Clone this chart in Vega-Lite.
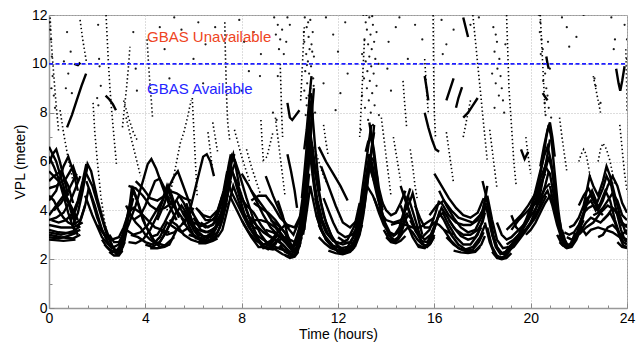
{
"$schema": "https://vega.github.io/schema/vega-lite/v6.json",
"width": 578, "height": 293,
"autosize": {"type": "none"},
"padding": {"left": 49, "top": 15, "right": 14, "bottom": 37},
"background": "white",
"config": {"view": {"stroke": "#999", "strokeWidth": 1}, "font": "Liberation Sans"},
"datasets": {
"arcs": [
{"i":1,"t":0,"v":3.0},{"i":1,"t":0.5,"v":2.9},{"i":1,"t":1.0,"v":2.85},{"i":1,"t":1.3,"v":3.0},
{"i":2,"t":0,"v":3.2},{"i":2,"t":0.4,"v":3.1},{"i":2,"t":0.9,"v":3.05},{"i":2,"t":1.3,"v":3.2},
{"i":3,"t":0,"v":2.8},{"i":3,"t":0.6,"v":2.75},{"i":3,"t":1.1,"v":2.8},
{"i":4,"t":0,"v":3.4},{"i":4,"t":0.5,"v":3.3},{"i":4,"t":1.0,"v":3.3},{"i":4,"t":1.4,"v":3.5},
{"i":5,"t":0,"v":6.6},{"i":5,"t":0.3,"v":6.0},{"i":5,"t":0.6,"v":5.0},{"i":5,"t":0.9,"v":4.0},{"i":5,"t":1.1,"v":3.4},
{"i":6,"t":0,"v":5.6},{"i":6,"t":0.4,"v":5.2},{"i":6,"t":0.8,"v":4.4},{"i":6,"t":1.1,"v":3.6},
{"i":7,"t":0,"v":5.2},{"i":7,"t":0.2,"v":5.4},{"i":7,"t":0.5,"v":5.6},{"i":7,"t":0.8,"v":5.0},{"i":7,"t":1.0,"v":4.3},
{"i":8,"t":0,"v":4.4},{"i":8,"t":0.3,"v":4.8},{"i":8,"t":0.6,"v":5.8},{"i":8,"t":0.8,"v":6.2},{"i":8,"t":1.0,"v":5.6},{"i":8,"t":1.2,"v":4.8},
{"i":9,"t":0,"v":3.8},{"i":9,"t":0.3,"v":4.2},{"i":9,"t":0.6,"v":4.6},{"i":9,"t":0.9,"v":4.2},{"i":9,"t":1.2,"v":3.6},
{"i":10,"t":0,"v":4.9},{"i":10,"t":0.3,"v":5.0},{"i":10,"t":0.7,"v":5.3},{"i":10,"t":1.0,"v":5.8},{"i":10,"t":1.2,"v":5.2},
{"i":11,"t":1.0,"v":3.4},{"i":11,"t":1.2,"v":3.9},{"i":11,"t":1.4,"v":4.8},{"i":11,"t":1.6,"v":5.9},{"i":11,"t":1.75,"v":5.6},{"i":11,"t":2.0,"v":4.5},{"i":11,"t":2.3,"v":3.4},{"i":11,"t":2.6,"v":2.6},{"i":11,"t":2.8,"v":2.2},{"i":11,"t":3.0,"v":2.3},{"i":11,"t":3.15,"v":2.9},
{"i":12,"t":1.5,"v":5.6},{"i":12,"t":1.8,"v":5.0},{"i":12,"t":2.1,"v":4.0},{"i":12,"t":2.4,"v":3.0},{"i":12,"t":2.7,"v":2.4},{"i":12,"t":2.9,"v":2.25},{"i":12,"t":3.1,"v":2.6},{"i":12,"t":3.25,"v":3.3},
{"i":13,"t":1.55,"v":5.2},{"i":13,"t":1.9,"v":4.2},{"i":13,"t":2.2,"v":3.2},{"i":13,"t":2.5,"v":2.6},{"i":13,"t":2.8,"v":2.35},{"i":13,"t":3.0,"v":2.6},{"i":13,"t":3.2,"v":3.3},{"i":13,"t":3.35,"v":4.0},
{"i":14,"t":1.5,"v":4.6},{"i":14,"t":1.8,"v":3.8},{"i":14,"t":2.2,"v":2.9},{"i":14,"t":2.6,"v":2.45},{"i":14,"t":2.9,"v":2.6},{"i":14,"t":3.2,"v":3.4},{"i":14,"t":3.45,"v":4.4},
{"i":15,"t":2.7,"v":2.25},{"i":15,"t":3.0,"v":2.5},{"i":15,"t":3.2,"v":3.3},{"i":15,"t":3.35,"v":4.2},{"i":15,"t":3.45,"v":5.0},{"i":15,"t":3.6,"v":4.6},{"i":15,"t":3.9,"v":3.6},{"i":15,"t":4.3,"v":2.8},{"i":15,"t":4.6,"v":2.5},{"i":15,"t":5.0,"v":2.6},{"i":15,"t":5.3,"v":3.2},
{"i":16,"t":2.9,"v":2.4},{"i":16,"t":3.1,"v":3.0},{"i":16,"t":3.3,"v":4.0},{"i":16,"t":3.5,"v":4.8},{"i":16,"t":3.7,"v":4.3},{"i":16,"t":4.0,"v":3.4},{"i":16,"t":4.4,"v":2.7},{"i":16,"t":4.8,"v":2.55},{"i":16,"t":5.2,"v":2.9},
{"i":17,"t":3.0,"v":2.8},{"i":17,"t":3.3,"v":3.4},{"i":17,"t":3.6,"v":4.2},{"i":17,"t":3.9,"v":5.2},{"i":17,"t":4.1,"v":5.9},{"i":17,"t":4.25,"v":6.1},{"i":17,"t":4.45,"v":5.7},{"i":17,"t":4.7,"v":5.0},{"i":17,"t":5.0,"v":4.2},{"i":17,"t":5.3,"v":3.6},
{"i":18,"t":3.2,"v":3.2},{"i":18,"t":3.5,"v":3.0},{"i":18,"t":3.8,"v":3.1},{"i":18,"t":4.1,"v":3.4},{"i":18,"t":4.4,"v":3.9},{"i":18,"t":4.7,"v":4.4},{"i":18,"t":4.9,"v":5.0},{"i":18,"t":5.1,"v":4.4},{"i":18,"t":5.4,"v":3.7},
{"i":19,"t":4.0,"v":2.6},{"i":19,"t":4.3,"v":2.5},{"i":19,"t":4.6,"v":2.7},{"i":19,"t":4.9,"v":3.2},{"i":19,"t":5.2,"v":3.8},{"i":19,"t":5.5,"v":4.2},{"i":19,"t":5.7,"v":3.9},{"i":19,"t":6.0,"v":3.2},{"i":19,"t":6.3,"v":2.8},{"i":19,"t":6.6,"v":2.75},{"i":19,"t":7.0,"v":3.0},
{"i":20,"t":4.2,"v":2.9},{"i":20,"t":4.5,"v":3.0},{"i":20,"t":4.8,"v":3.5},{"i":20,"t":5.1,"v":4.1},{"i":20,"t":5.4,"v":4.6},{"i":20,"t":5.6,"v":4.3},{"i":20,"t":5.9,"v":3.6},{"i":20,"t":6.2,"v":3.0},{"i":20,"t":6.5,"v":2.9},{"i":20,"t":6.9,"v":3.2},{"i":20,"t":7.2,"v":3.9},
{"i":21,"t":4.5,"v":3.6},{"i":21,"t":4.8,"v":4.3},{"i":21,"t":5.0,"v":5.0},{"i":21,"t":5.2,"v":5.4},{"i":21,"t":5.35,"v":5.6},{"i":21,"t":5.5,"v":5.2},{"i":21,"t":5.8,"v":4.4},{"i":21,"t":6.0,"v":3.8},
{"i":22,"t":5.6,"v":3.4},{"i":22,"t":5.9,"v":4.2},{"i":22,"t":6.15,"v":5.2},{"i":22,"t":6.4,"v":6.2},{"i":22,"t":6.55,"v":6.3},{"i":22,"t":6.7,"v":6.0},{"i":22,"t":6.85,"v":5.4},
{"i":23,"t":5.6,"v":4.0},{"i":23,"t":5.8,"v":3.4},{"i":23,"t":6.0,"v":3.0},{"i":23,"t":6.3,"v":2.75},{"i":23,"t":6.6,"v":2.7},{"i":23,"t":6.9,"v":2.9},{"i":23,"t":7.1,"v":3.3},{"i":23,"t":7.3,"v":4.0},{"i":23,"t":7.45,"v":4.8},{"i":23,"t":7.6,"v":5.6},{"i":23,"t":7.75,"v":6.0},
{"i":24,"t":5.7,"v":4.3},{"i":24,"t":5.9,"v":3.7},{"i":24,"t":6.1,"v":3.2},{"i":24,"t":6.4,"v":2.95},{"i":24,"t":6.7,"v":2.9},{"i":24,"t":7.0,"v":3.1},{"i":24,"t":7.2,"v":3.6},{"i":24,"t":7.35,"v":4.3},{"i":24,"t":7.5,"v":5.2},{"i":24,"t":7.6,"v":6.2},{"i":24,"t":7.7,"v":6.0},
{"i":25,"t":5.5,"v":3.7},{"i":25,"t":5.8,"v":3.2},{"i":25,"t":6.1,"v":2.85},{"i":25,"t":6.5,"v":2.8},{"i":25,"t":6.8,"v":3.0},{"i":25,"t":7.05,"v":3.5},{"i":25,"t":7.25,"v":4.3},{"i":25,"t":7.4,"v":5.1},{"i":25,"t":7.55,"v":5.9},{"i":25,"t":7.7,"v":6.3},
{"i":26,"t":5.9,"v":4.0},{"i":26,"t":6.2,"v":3.5},{"i":26,"t":6.5,"v":3.3},{"i":26,"t":6.8,"v":3.4},{"i":26,"t":7.0,"v":3.8},{"i":26,"t":7.2,"v":4.4},{"i":26,"t":7.35,"v":5.0},
{"i":27,"t":6.0,"v":3.7},{"i":27,"t":6.3,"v":3.2},{"i":27,"t":6.6,"v":3.1},{"i":27,"t":6.9,"v":3.3},{"i":27,"t":7.15,"v":3.9},{"i":27,"t":7.3,"v":4.6},{"i":27,"t":7.45,"v":5.5},
{"i":28,"t":6.1,"v":4.1},{"i":28,"t":6.4,"v":3.8},{"i":28,"t":6.7,"v":3.7},{"i":28,"t":7.0,"v":4.0},{"i":28,"t":7.2,"v":4.6},
{"i":29,"t":7.7,"v":6.1},{"i":29,"t":7.9,"v":5.5},{"i":29,"t":8.2,"v":4.5},{"i":29,"t":8.5,"v":3.6},{"i":29,"t":8.8,"v":3.0},{"i":29,"t":9.1,"v":2.6},{"i":29,"t":9.4,"v":2.4},{"i":29,"t":9.7,"v":2.2},{"i":29,"t":10.0,"v":2.1},{"i":29,"t":10.2,"v":2.2},{"i":29,"t":10.4,"v":2.8},{"i":29,"t":10.55,"v":4.0},{"i":29,"t":10.7,"v":5.5},{"i":29,"t":10.8,"v":7.0},
{"i":30,"t":7.6,"v":5.6},{"i":30,"t":7.9,"v":4.9},{"i":30,"t":8.2,"v":4.0},{"i":30,"t":8.5,"v":3.2},{"i":30,"t":8.8,"v":2.6},{"i":30,"t":9.1,"v":2.4},{"i":30,"t":9.4,"v":2.6},{"i":30,"t":9.6,"v":3.0},
{"i":31,"t":7.8,"v":5.0},{"i":31,"t":8.1,"v":4.3},{"i":31,"t":8.4,"v":3.5},{"i":31,"t":8.7,"v":2.8},{"i":31,"t":8.9,"v":2.45},{"i":31,"t":9.2,"v":2.5},{"i":31,"t":9.5,"v":2.8},{"i":31,"t":9.8,"v":2.5},{"i":31,"t":10.1,"v":2.1},{"i":31,"t":10.3,"v":2.3},{"i":31,"t":10.5,"v":3.2},{"i":31,"t":10.65,"v":4.6},{"i":31,"t":10.75,"v":6.0},
{"i":32,"t":7.5,"v":4.6},{"i":32,"t":7.8,"v":4.0},{"i":32,"t":8.1,"v":3.4},{"i":32,"t":8.4,"v":2.9},{"i":32,"t":8.7,"v":2.5},{"i":32,"t":9.0,"v":2.5},{"i":32,"t":9.3,"v":2.8},{"i":32,"t":9.6,"v":3.3},
{"i":33,"t":7.9,"v":4.6},{"i":33,"t":8.2,"v":4.2},{"i":33,"t":8.5,"v":3.9},{"i":33,"t":8.8,"v":3.4},{"i":33,"t":9.1,"v":3.0},{"i":33,"t":9.4,"v":2.8},{"i":33,"t":9.7,"v":2.6},{"i":33,"t":10.0,"v":2.3},{"i":33,"t":10.3,"v":2.4},{"i":33,"t":10.5,"v":3.0},{"i":33,"t":10.65,"v":4.0},{"i":33,"t":10.8,"v":5.5},
{"i":34,"t":8.0,"v":5.5},{"i":34,"t":8.3,"v":5.0},{"i":34,"t":8.6,"v":4.4},{"i":34,"t":8.9,"v":3.8},{"i":34,"t":9.2,"v":3.3},{"i":34,"t":9.5,"v":3.0},{"i":34,"t":9.8,"v":2.7},{"i":34,"t":10.05,"v":2.4},{"i":34,"t":10.25,"v":2.6},{"i":34,"t":10.45,"v":3.5},{"i":34,"t":10.6,"v":4.8},{"i":34,"t":10.7,"v":6.2},{"i":34,"t":10.8,"v":8.0},
{"i":35,"t":8.3,"v":3.7},{"i":35,"t":8.6,"v":3.4},{"i":35,"t":8.9,"v":3.1},{"i":35,"t":9.2,"v":2.9},{"i":35,"t":9.5,"v":2.75},{"i":35,"t":9.8,"v":2.9},{"i":35,"t":10.1,"v":2.5},{"i":35,"t":10.3,"v":2.7},{"i":35,"t":10.5,"v":3.6},
{"i":36,"t":8.4,"v":4.8},{"i":36,"t":8.7,"v":4.4},{"i":36,"t":9.0,"v":4.0},{"i":36,"t":9.3,"v":3.5},{"i":36,"t":9.6,"v":3.1},{"i":36,"t":9.9,"v":2.7},{"i":36,"t":10.1,"v":2.5},{"i":36,"t":10.35,"v":3.0},{"i":36,"t":10.5,"v":3.8},
{"i":37,"t":9.0,"v":5.4},{"i":37,"t":9.3,"v":4.6},{"i":37,"t":9.6,"v":3.9},{"i":37,"t":9.9,"v":3.3},{"i":37,"t":10.15,"v":3.0},{"i":37,"t":10.4,"v":3.6},{"i":37,"t":10.6,"v":5.0},{"i":37,"t":10.75,"v":6.8},{"i":37,"t":10.85,"v":8.5},
{"i":38,"t":10.8,"v":7.5},{"i":38,"t":10.95,"v":6.5},{"i":38,"t":11.1,"v":5.4},{"i":38,"t":11.3,"v":4.3},{"i":38,"t":11.5,"v":3.5},{"i":38,"t":11.8,"v":2.8},{"i":38,"t":12.1,"v":2.4},{"i":38,"t":12.4,"v":2.3},{"i":38,"t":12.7,"v":2.6},{"i":38,"t":12.9,"v":3.5},{"i":38,"t":13.05,"v":4.6},{"i":38,"t":13.2,"v":5.6},{"i":38,"t":13.3,"v":6.3},
{"i":39,"t":10.9,"v":6.8},{"i":39,"t":11.0,"v":5.8},{"i":39,"t":11.2,"v":4.7},{"i":39,"t":11.4,"v":3.8},{"i":39,"t":11.7,"v":3.0},{"i":39,"t":12.0,"v":2.55},{"i":39,"t":12.3,"v":2.35},{"i":39,"t":12.6,"v":2.5},{"i":39,"t":12.85,"v":3.2},{"i":39,"t":13.0,"v":4.2},{"i":39,"t":13.15,"v":5.2},{"i":39,"t":13.3,"v":6.0},
{"i":40,"t":10.95,"v":5.5},{"i":40,"t":11.15,"v":4.4},{"i":40,"t":11.35,"v":3.6},{"i":40,"t":11.6,"v":3.0},{"i":40,"t":11.9,"v":2.7},{"i":40,"t":12.2,"v":2.6},{"i":40,"t":12.5,"v":2.7},{"i":40,"t":12.75,"v":3.1},{"i":40,"t":12.95,"v":3.9},{"i":40,"t":13.1,"v":4.9},
{"i":41,"t":11.05,"v":4.5},{"i":41,"t":11.25,"v":3.7},{"i":41,"t":11.5,"v":3.1},{"i":41,"t":11.8,"v":2.75},{"i":41,"t":12.1,"v":2.65},{"i":41,"t":12.4,"v":2.8},{"i":41,"t":12.7,"v":3.4},{"i":41,"t":12.9,"v":4.3},
{"i":42,"t":11.2,"v":3.4},{"i":42,"t":11.4,"v":3.0},{"i":42,"t":11.7,"v":2.6},{"i":42,"t":12.0,"v":2.3},{"i":42,"t":12.3,"v":2.25},{"i":42,"t":12.6,"v":2.4},{"i":42,"t":12.8,"v":2.9},
{"i":43,"t":11.3,"v":5.8},{"i":43,"t":11.6,"v":5.0},{"i":43,"t":11.9,"v":4.2},{"i":43,"t":12.2,"v":3.5},{"i":43,"t":12.5,"v":3.3},{"i":43,"t":12.8,"v":3.6},{"i":43,"t":13.0,"v":4.4},
{"i":44,"t":11.2,"v":6.6},{"i":44,"t":11.5,"v":6.0},{"i":44,"t":11.8,"v":5.5},{"i":44,"t":12.1,"v":5.0},{"i":44,"t":12.4,"v":4.4},
{"i":45,"t":13.3,"v":6.3},{"i":45,"t":13.5,"v":5.4},{"i":45,"t":13.7,"v":4.4},{"i":45,"t":13.9,"v":3.6},{"i":45,"t":14.1,"v":3.0},{"i":45,"t":14.3,"v":2.75},{"i":45,"t":14.5,"v":2.9},{"i":45,"t":14.7,"v":3.5},{"i":45,"t":14.85,"v":4.4},{"i":45,"t":15.0,"v":4.9},
{"i":46,"t":13.35,"v":5.8},{"i":46,"t":13.6,"v":4.7},{"i":46,"t":13.8,"v":3.9},{"i":46,"t":14.0,"v":3.3},{"i":46,"t":14.2,"v":2.9},{"i":46,"t":14.4,"v":2.75},{"i":46,"t":14.6,"v":3.0},{"i":46,"t":14.8,"v":3.6},
{"i":47,"t":13.4,"v":6.0},{"i":47,"t":13.55,"v":5.2},{"i":47,"t":13.75,"v":4.2},{"i":47,"t":13.95,"v":3.5},{"i":47,"t":14.15,"v":3.1},{"i":47,"t":14.35,"v":3.0},{"i":47,"t":14.55,"v":3.3},{"i":47,"t":14.75,"v":4.0},{"i":47,"t":14.9,"v":4.6},
{"i":48,"t":13.2,"v":5.0},{"i":48,"t":13.45,"v":4.6},{"i":48,"t":13.7,"v":4.0},{"i":48,"t":14.0,"v":3.6},{"i":48,"t":14.3,"v":3.5},{"i":48,"t":14.6,"v":3.6},{"i":48,"t":14.9,"v":3.9},
{"i":49,"t":14.6,"v":4.2},{"i":49,"t":14.85,"v":3.5},{"i":49,"t":15.1,"v":2.9},{"i":49,"t":15.35,"v":2.5},{"i":49,"t":15.6,"v":2.45},{"i":49,"t":15.85,"v":2.8},{"i":49,"t":16.05,"v":3.4},{"i":49,"t":16.2,"v":3.9},{"i":49,"t":16.4,"v":3.6},{"i":49,"t":16.7,"v":3.0},{"i":49,"t":17.0,"v":2.6},{"i":49,"t":17.3,"v":2.4},{"i":49,"t":17.6,"v":2.5},{"i":49,"t":17.9,"v":2.9},{"i":49,"t":18.1,"v":3.4},
{"i":50,"t":14.7,"v":4.8},{"i":50,"t":14.95,"v":4.0},{"i":50,"t":15.2,"v":3.2},{"i":50,"t":15.45,"v":2.75},{"i":50,"t":15.7,"v":2.7},{"i":50,"t":15.95,"v":3.1},{"i":50,"t":16.15,"v":3.7},{"i":50,"t":16.35,"v":3.9},{"i":50,"t":16.6,"v":3.4},{"i":50,"t":16.9,"v":2.9},{"i":50,"t":17.2,"v":2.6},{"i":50,"t":17.5,"v":2.6},{"i":50,"t":17.8,"v":3.0},{"i":50,"t":18.0,"v":3.6},{"i":50,"t":18.15,"v":4.3},
{"i":51,"t":14.9,"v":4.6},{"i":51,"t":15.15,"v":3.8},{"i":51,"t":15.4,"v":3.0},{"i":51,"t":15.6,"v":2.8},{"i":51,"t":15.85,"v":3.0},{"i":51,"t":16.1,"v":3.6},{"i":51,"t":16.3,"v":4.1},{"i":51,"t":16.5,"v":3.8},{"i":51,"t":16.8,"v":3.3},{"i":51,"t":17.1,"v":2.95},{"i":51,"t":17.4,"v":2.8},{"i":51,"t":17.7,"v":2.9},{"i":51,"t":17.95,"v":3.3},
{"i":52,"t":15.0,"v":3.6},{"i":52,"t":15.25,"v":3.1},{"i":52,"t":15.5,"v":2.9},{"i":52,"t":15.8,"v":3.2},{"i":52,"t":16.05,"v":3.9},{"i":52,"t":16.2,"v":4.4},
{"i":53,"t":16.2,"v":4.8},{"i":53,"t":16.5,"v":4.2},{"i":53,"t":16.8,"v":3.7},{"i":53,"t":17.1,"v":3.3},{"i":53,"t":17.4,"v":3.1},{"i":53,"t":17.7,"v":3.2},{"i":53,"t":17.95,"v":3.7},{"i":53,"t":18.1,"v":4.4},{"i":53,"t":18.2,"v":5.0},
{"i":54,"t":16.4,"v":3.2},{"i":54,"t":16.7,"v":2.75},{"i":54,"t":17.0,"v":2.45},{"i":54,"t":17.3,"v":2.35},{"i":54,"t":17.6,"v":2.4},{"i":54,"t":17.85,"v":2.7},{"i":54,"t":18.05,"v":3.1},
{"i":55,"t":16.0,"v":5.5},{"i":55,"t":16.3,"v":5.0},{"i":55,"t":16.6,"v":4.5},{"i":55,"t":16.9,"v":4.1},{"i":55,"t":17.2,"v":3.8},{"i":55,"t":17.5,"v":3.7},{"i":55,"t":17.8,"v":3.9},{"i":55,"t":18.05,"v":4.5},
{"i":56,"t":18.1,"v":3.5},{"i":56,"t":18.3,"v":2.7},{"i":56,"t":18.5,"v":2.2},{"i":56,"t":18.7,"v":2.05},{"i":56,"t":18.9,"v":2.1},{"i":56,"t":19.1,"v":2.4},{"i":56,"t":19.4,"v":2.8},{"i":56,"t":19.7,"v":3.3},{"i":56,"t":20.0,"v":4.0},{"i":56,"t":20.3,"v":5.0},{"i":56,"t":20.5,"v":6.0},{"i":56,"t":20.65,"v":7.0},{"i":56,"t":20.75,"v":7.5},{"i":56,"t":20.85,"v":7.0},{"i":56,"t":21.0,"v":5.5},{"i":56,"t":21.15,"v":4.0},{"i":56,"t":21.3,"v":2.9},{"i":56,"t":21.45,"v":2.5},{"i":56,"t":21.6,"v":2.6},
{"i":57,"t":18.15,"v":4.2},{"i":57,"t":18.35,"v":3.2},{"i":57,"t":18.55,"v":2.5},{"i":57,"t":18.75,"v":2.2},{"i":57,"t":18.95,"v":2.3},{"i":57,"t":19.2,"v":2.6},{"i":57,"t":19.5,"v":3.0},{"i":57,"t":19.8,"v":3.6},{"i":57,"t":20.1,"v":4.4},{"i":57,"t":20.35,"v":5.4},{"i":57,"t":20.55,"v":6.2},{"i":57,"t":20.7,"v":6.6},{"i":57,"t":20.85,"v":6.0},{"i":57,"t":21.0,"v":4.8},{"i":57,"t":21.2,"v":3.4},{"i":57,"t":21.4,"v":2.6},{"i":57,"t":21.6,"v":2.5},
{"i":58,"t":18.2,"v":4.6},{"i":58,"t":18.4,"v":3.6},{"i":58,"t":18.6,"v":2.8},{"i":58,"t":18.85,"v":2.45},{"i":58,"t":19.1,"v":2.5},{"i":58,"t":19.4,"v":2.75},{"i":58,"t":19.7,"v":3.1},{"i":58,"t":20.0,"v":3.5},{"i":58,"t":20.3,"v":4.0},{"i":58,"t":20.5,"v":4.5},{"i":58,"t":20.7,"v":4.8},{"i":58,"t":20.9,"v":4.2},{"i":58,"t":21.1,"v":3.4},{"i":58,"t":21.3,"v":2.8},{"i":58,"t":21.5,"v":2.7},
{"i":59,"t":18.4,"v":3.0},{"i":59,"t":18.6,"v":2.5},{"i":59,"t":18.8,"v":2.25},{"i":59,"t":19.0,"v":2.3},{"i":59,"t":19.3,"v":2.5},{"i":59,"t":19.6,"v":2.9},{"i":59,"t":19.9,"v":3.3},{"i":59,"t":20.2,"v":3.7},{"i":59,"t":20.45,"v":4.2},{"i":59,"t":20.65,"v":4.6},
{"i":60,"t":19.0,"v":3.2},{"i":60,"t":19.3,"v":3.5},{"i":60,"t":19.6,"v":3.8},{"i":60,"t":19.9,"v":4.2},{"i":60,"t":20.2,"v":4.7},{"i":60,"t":20.4,"v":5.3},{"i":60,"t":20.6,"v":5.8},{"i":60,"t":20.8,"v":5.5},{"i":60,"t":21.0,"v":4.4},{"i":60,"t":21.2,"v":3.2},
{"i":61,"t":21.2,"v":3.6},{"i":61,"t":21.35,"v":2.8},{"i":61,"t":21.5,"v":2.5},{"i":61,"t":21.7,"v":2.6},{"i":61,"t":21.9,"v":3.0},{"i":61,"t":22.1,"v":3.6},{"i":61,"t":22.3,"v":4.2},{"i":61,"t":22.5,"v":4.4},{"i":61,"t":22.7,"v":4.0},{"i":61,"t":22.9,"v":4.3},{"i":61,"t":23.1,"v":4.8},{"i":61,"t":23.3,"v":4.4},{"i":61,"t":23.5,"v":3.6},{"i":61,"t":23.7,"v":3.0},{"i":61,"t":23.85,"v":2.7},{"i":61,"t":24.0,"v":2.6},
{"i":62,"t":21.3,"v":3.2},{"i":62,"t":21.45,"v":2.7},{"i":62,"t":21.6,"v":2.55},{"i":62,"t":21.8,"v":2.7},{"i":62,"t":22.0,"v":3.1},{"i":62,"t":22.2,"v":3.8},{"i":62,"t":22.4,"v":4.5},{"i":62,"t":22.55,"v":4.8},{"i":62,"t":22.75,"v":4.3},{"i":62,"t":23.0,"v":4.9},{"i":62,"t":23.15,"v":5.4},{"i":62,"t":23.35,"v":5.0},{"i":62,"t":23.55,"v":4.0},{"i":62,"t":23.75,"v":3.2},{"i":62,"t":23.9,"v":2.8},{"i":62,"t":24.0,"v":2.7},
{"i":63,"t":21.5,"v":2.9},{"i":63,"t":21.7,"v":2.8},{"i":63,"t":21.9,"v":2.9},{"i":63,"t":22.1,"v":3.2},{"i":63,"t":22.3,"v":3.5},{"i":63,"t":22.5,"v":3.7},{"i":63,"t":22.7,"v":3.6},{"i":63,"t":22.9,"v":3.5},{"i":63,"t":23.1,"v":3.7},{"i":63,"t":23.3,"v":3.9},{"i":63,"t":23.5,"v":3.5},{"i":63,"t":23.7,"v":2.9},{"i":63,"t":23.85,"v":2.55},{"i":63,"t":24.0,"v":2.5},
{"i":64,"t":21.6,"v":3.3},{"i":64,"t":21.8,"v":3.4},{"i":64,"t":22.0,"v":3.7},{"i":64,"t":22.2,"v":4.2},{"i":64,"t":22.35,"v":4.9},{"i":64,"t":22.45,"v":5.4},{"i":64,"t":22.6,"v":5.0},{"i":64,"t":22.8,"v":4.6},{"i":64,"t":23.0,"v":5.2},{"i":64,"t":23.15,"v":5.8},{"i":64,"t":23.3,"v":5.4},{"i":64,"t":23.5,"v":4.6},{"i":64,"t":23.7,"v":3.8},{"i":64,"t":23.9,"v":3.2},{"i":64,"t":24.0,"v":3.0},
{"i":65,"t":21.1,"v":3.0},{"i":65,"t":21.3,"v":2.6},{"i":65,"t":21.5,"v":2.45},{"i":65,"t":21.7,"v":2.5},{"i":65,"t":21.9,"v":2.8},{"i":65,"t":22.1,"v":3.3},{"i":65,"t":22.3,"v":3.0},{"i":65,"t":22.5,"v":3.2},{"i":65,"t":22.8,"v":3.3},{"i":65,"t":23.1,"v":3.2},{"i":65,"t":23.4,"v":3.1},{"i":65,"t":23.7,"v":2.9},{"i":65,"t":24.0,"v":3.2},
{"i":66,"t":22.6,"v":3.8},{"i":66,"t":22.8,"v":3.9},{"i":66,"t":23.0,"v":4.1},{"i":66,"t":23.2,"v":4.4},{"i":66,"t":23.4,"v":4.7},{"i":66,"t":23.6,"v":4.4},{"i":66,"t":23.8,"v":3.8},{"i":66,"t":24.0,"v":3.6},
{"i":67,"t":3.3,"v":2.7},{"i":67,"t":3.6,"v":2.65},{"i":67,"t":3.9,"v":2.8},{"i":67,"t":4.2,"v":3.2},{"i":67,"t":4.5,"v":3.8},{"i":67,"t":4.8,"v":4.6},{"i":67,"t":4.95,"v":5.0},{"i":67,"t":5.1,"v":4.6},{"i":67,"t":5.3,"v":4.0},{"i":67,"t":5.6,"v":3.6},{"i":67,"t":5.9,"v":3.7},
{"i":68,"t":3.4,"v":3.0},{"i":68,"t":3.7,"v":2.9},{"i":68,"t":4.0,"v":2.7},{"i":68,"t":4.3,"v":2.6},{"i":68,"t":4.6,"v":2.9},{"i":68,"t":4.9,"v":3.5},{"i":68,"t":5.2,"v":3.3},{"i":68,"t":5.5,"v":3.1},{"i":68,"t":5.8,"v":3.3},
{"i":69,"t":0.9,"v":3.6},{"i":69,"t":1.1,"v":4.0},{"i":69,"t":1.3,"v":4.6},{"i":69,"t":1.5,"v":5.4},{"i":69,"t":1.6,"v":5.8},
{"i":70,"t":10.6,"v":3.2},{"i":70,"t":10.7,"v":4.6},{"i":70,"t":10.8,"v":6.3},{"i":70,"t":10.9,"v":7.8},{"i":70,"t":11.0,"v":9.0},
{"i":71,"t":12.5,"v":2.4},{"i":71,"t":12.75,"v":2.8},{"i":71,"t":12.95,"v":3.6},{"i":71,"t":13.1,"v":4.6},{"i":71,"t":13.25,"v":5.6},{"i":71,"t":13.4,"v":6.4},{"i":71,"t":13.5,"v":7.5},
{"i":72,"t":12.7,"v":2.5},{"i":72,"t":12.9,"v":3.0},{"i":72,"t":13.05,"v":3.8},{"i":72,"t":13.2,"v":4.9},{"i":72,"t":13.35,"v":6.2},{"i":72,"t":13.5,"v":6.0},{"i":72,"t":13.65,"v":5.0},{"i":72,"t":13.85,"v":4.0},
{"i":73,"t":0.75,"v":7.4},{"i":73,"t":0.95,"v":7.9},{"i":73,"t":1.15,"v":8.5},{"i":73,"t":1.35,"v":9.1},{"i":73,"t":1.54,"v":9.6},
{"i":74,"t":1.05,"v":10.0},{"i":74,"t":1.2,"v":9.95},{"i":74,"t":1.3,"v":10.05},
{"i":75,"t":2.35,"v":8.7},{"i":75,"t":2.5,"v":8.55},{"i":75,"t":2.65,"v":8.35},{"i":75,"t":2.78,"v":8.1},
{"i":76,"t":9.9,"v":8.4},{"i":76,"t":10.0,"v":7.8},{"i":76,"t":10.1,"v":7.7},{"i":76,"t":10.25,"v":7.9},{"i":76,"t":10.4,"v":8.1},
{"i":77,"t":9.9,"v":6.3},{"i":77,"t":10.05,"v":5.6},{"i":77,"t":10.2,"v":4.8},{"i":77,"t":10.3,"v":4.1},
{"i":78,"t":15.6,"v":8.0},{"i":78,"t":15.75,"v":7.4},{"i":78,"t":15.9,"v":6.9},{"i":78,"t":16.05,"v":6.5},{"i":78,"t":16.2,"v":6.4},
{"i":79,"t":15.6,"v":9.5},{"i":79,"t":15.68,"v":9.0},{"i":79,"t":15.75,"v":8.5},
{"i":80,"t":17.2,"v":11.9},{"i":80,"t":17.3,"v":11.5},{"i":80,"t":17.4,"v":11.1},
{"i":81,"t":16.5,"v":8.5},{"i":81,"t":16.65,"v":8.95},{"i":81,"t":16.8,"v":9.4},
{"i":82,"t":16.9,"v":8.2},{"i":82,"t":17.0,"v":8.6},{"i":82,"t":17.15,"v":9.05},
{"i":83,"t":17.2,"v":7.8},{"i":83,"t":17.4,"v":8.0},{"i":83,"t":17.6,"v":8.3},{"i":83,"t":17.8,"v":8.6},
{"i":84,"t":19.6,"v":6.5},{"i":84,"t":19.75,"v":6.1},{"i":84,"t":19.9,"v":6.4},
{"i":85,"t":20.5,"v":8.8},{"i":85,"t":20.6,"v":8.65},{"i":85,"t":20.7,"v":8.5},
{"i":86,"t":23.55,"v":9.8},{"i":86,"t":23.65,"v":9.2},{"i":86,"t":23.72,"v":8.9},{"i":86,"t":23.8,"v":9.3},{"i":86,"t":23.9,"v":9.9},
{"i":87,"t":20.65,"v":10.3},{"i":87,"t":20.7,"v":10.0},{"i":87,"t":20.75,"v":9.8},
{"i":88,"t":0,"v":6.2},{"i":88,"t":0.2,"v":5.8},{"i":88,"t":0.4,"v":5.3},{"i":88,"t":0.6,"v":4.6},{"i":88,"t":0.8,"v":3.9},{"i":88,"t":1.0,"v":3.3},{"i":88,"t":1.2,"v":3.0},
{"i":89,"t":0,"v":4.6},{"i":89,"t":0.2,"v":4.4},{"i":89,"t":0.4,"v":4.0},{"i":89,"t":0.6,"v":3.7},{"i":89,"t":0.8,"v":3.5},{"i":89,"t":1.0,"v":3.4},{"i":89,"t":1.3,"v":3.6},{"i":89,"t":1.5,"v":4.2},
{"i":90,"t":0,"v":5.9},{"i":90,"t":0.15,"v":6.3},{"i":90,"t":0.3,"v":6.5},{"i":90,"t":0.45,"v":6.0},{"i":90,"t":0.6,"v":5.4},{"i":90,"t":0.8,"v":4.6},
{"i":91,"t":0.1,"v":3.6},{"i":91,"t":0.4,"v":3.5},{"i":91,"t":0.7,"v":3.6},{"i":91,"t":1.0,"v":3.9},{"i":91,"t":1.2,"v":4.4},{"i":91,"t":1.4,"v":5.2},{"i":91,"t":1.55,"v":5.9},
{"i":92,"t":0.2,"v":4.0},{"i":92,"t":0.5,"v":4.3},{"i":92,"t":0.8,"v":4.8},{"i":92,"t":1.0,"v":5.2},{"i":92,"t":1.15,"v":5.5},
{"i":93,"t":2.2,"v":2.8},{"i":93,"t":2.4,"v":2.5},{"i":93,"t":2.6,"v":2.3},{"i":93,"t":2.8,"v":2.3},{"i":93,"t":3.0,"v":2.45},{"i":93,"t":3.15,"v":2.7},
{"i":94,"t":2.3,"v":2.6},{"i":94,"t":2.5,"v":2.4},{"i":94,"t":2.7,"v":2.3},{"i":94,"t":2.9,"v":2.35},{"i":94,"t":3.1,"v":2.55},
{"i":95,"t":2.5,"v":3.0},{"i":95,"t":2.7,"v":2.7},{"i":95,"t":2.9,"v":2.7},{"i":95,"t":3.1,"v":3.0},{"i":95,"t":3.3,"v":3.7},{"i":95,"t":3.5,"v":4.5},
{"i":96,"t":3.2,"v":4.2},{"i":96,"t":3.4,"v":3.8},{"i":96,"t":3.6,"v":3.5},{"i":96,"t":3.8,"v":3.3},{"i":96,"t":4.0,"v":3.0},{"i":96,"t":4.2,"v":2.8},{"i":96,"t":4.4,"v":2.65},{"i":96,"t":4.6,"v":2.7},{"i":96,"t":4.8,"v":3.0},{"i":96,"t":5.0,"v":3.4},{"i":96,"t":5.2,"v":3.7},
{"i":97,"t":3.3,"v":5.0},{"i":97,"t":3.6,"v":4.9},{"i":97,"t":3.9,"v":4.6},{"i":97,"t":4.2,"v":4.2},{"i":97,"t":4.5,"v":4.0},{"i":97,"t":4.8,"v":4.1},{"i":97,"t":5.1,"v":4.3},
{"i":98,"t":3.5,"v":3.6},{"i":98,"t":3.8,"v":3.8},{"i":98,"t":4.0,"v":4.2},{"i":98,"t":4.2,"v":4.7},{"i":98,"t":4.4,"v":5.2},{"i":98,"t":4.6,"v":5.3},{"i":98,"t":4.8,"v":4.9},{"i":98,"t":5.0,"v":4.4},{"i":98,"t":5.2,"v":4.1},
{"i":99,"t":4.6,"v":3.2},{"i":99,"t":4.9,"v":3.0},{"i":99,"t":5.2,"v":3.1},{"i":99,"t":5.5,"v":3.4},{"i":99,"t":5.8,"v":3.8},{"i":99,"t":6.0,"v":4.1},
{"i":100,"t":5.0,"v":3.6},{"i":100,"t":5.3,"v":3.4},{"i":100,"t":5.6,"v":3.0},{"i":100,"t":5.9,"v":2.8},{"i":100,"t":6.2,"v":2.7},{"i":100,"t":6.5,"v":2.75},{"i":100,"t":6.8,"v":2.8},{"i":100,"t":7.0,"v":2.95},
{"i":101,"t":5.3,"v":4.4},{"i":101,"t":5.6,"v":3.8},{"i":101,"t":5.9,"v":3.4},{"i":101,"t":6.2,"v":3.2},{"i":101,"t":6.5,"v":3.1},{"i":101,"t":6.8,"v":3.2},{"i":101,"t":7.1,"v":3.5},{"i":101,"t":7.3,"v":4.1},
{"i":102,"t":5.8,"v":3.0},{"i":102,"t":6.1,"v":2.9},{"i":102,"t":6.4,"v":2.85},{"i":102,"t":6.7,"v":3.0},{"i":102,"t":7.0,"v":3.4},{"i":102,"t":7.2,"v":4.0},{"i":102,"t":7.4,"v":4.6},{"i":102,"t":7.55,"v":5.2},
{"i":103,"t":6.0,"v":3.5},{"i":103,"t":6.3,"v":3.35},{"i":103,"t":6.6,"v":3.5},{"i":103,"t":6.9,"v":3.7},{"i":103,"t":7.1,"v":4.2},{"i":103,"t":7.3,"v":4.9},{"i":103,"t":7.45,"v":5.8},{"i":103,"t":7.55,"v":6.3},
{"i":104,"t":6.2,"v":4.0},{"i":104,"t":6.5,"v":3.6},{"i":104,"t":6.8,"v":3.6},{"i":104,"t":7.0,"v":3.9},{"i":104,"t":7.25,"v":4.8},{"i":104,"t":7.4,"v":5.6},
{"i":105,"t":7.4,"v":5.2},{"i":105,"t":7.6,"v":4.7},{"i":105,"t":7.8,"v":4.3},{"i":105,"t":8.0,"v":3.9},{"i":105,"t":8.3,"v":3.3},{"i":105,"t":8.6,"v":2.9},{"i":105,"t":8.9,"v":2.6},{"i":105,"t":9.2,"v":2.6},{"i":105,"t":9.5,"v":3.0},
{"i":106,"t":7.55,"v":5.8},{"i":106,"t":7.7,"v":5.3},{"i":106,"t":7.9,"v":4.6},{"i":106,"t":8.1,"v":3.9},{"i":106,"t":8.4,"v":3.2},{"i":106,"t":8.7,"v":2.7},{"i":106,"t":9.0,"v":2.45},{"i":106,"t":9.3,"v":2.4},{"i":106,"t":9.6,"v":2.5},{"i":106,"t":9.9,"v":2.3},{"i":106,"t":10.1,"v":2.15},{"i":106,"t":10.3,"v":2.25},{"i":106,"t":10.45,"v":2.7},
{"i":107,"t":8.5,"v":4.3},{"i":107,"t":8.8,"v":4.1},{"i":107,"t":9.1,"v":3.9},{"i":107,"t":9.4,"v":3.6},{"i":107,"t":9.7,"v":3.2},{"i":107,"t":10.0,"v":2.8},{"i":107,"t":10.2,"v":2.7},{"i":107,"t":10.4,"v":3.3},{"i":107,"t":10.55,"v":4.4},
{"i":108,"t":9.2,"v":3.6},{"i":108,"t":9.5,"v":3.4},{"i":108,"t":9.8,"v":3.1},{"i":108,"t":10.0,"v":2.6},{"i":108,"t":10.15,"v":2.35},{"i":108,"t":10.3,"v":2.5},{"i":108,"t":10.45,"v":3.2},{"i":108,"t":10.6,"v":4.2},{"i":108,"t":10.7,"v":5.2},
{"i":109,"t":9.5,"v":4.4},{"i":109,"t":9.7,"v":3.8},{"i":109,"t":9.9,"v":3.0},{"i":109,"t":10.05,"v":2.6},{"i":109,"t":10.2,"v":2.4},{"i":109,"t":10.35,"v":2.6},{"i":109,"t":10.5,"v":3.4},{"i":109,"t":10.62,"v":4.4},{"i":109,"t":10.75,"v":5.8},{"i":109,"t":10.85,"v":7.0},
{"i":110,"t":9.6,"v":2.6},{"i":110,"t":9.8,"v":2.3},{"i":110,"t":10.0,"v":2.2},{"i":110,"t":10.2,"v":2.3},{"i":110,"t":10.35,"v":2.5},{"i":110,"t":10.5,"v":2.9},
{"i":111,"t":10.5,"v":4.5},{"i":111,"t":10.6,"v":5.5},{"i":111,"t":10.7,"v":6.6},{"i":111,"t":10.8,"v":7.7},{"i":111,"t":10.9,"v":8.3},
{"i":112,"t":10.55,"v":3.0},{"i":112,"t":10.65,"v":3.6},{"i":112,"t":10.75,"v":4.3},{"i":112,"t":10.85,"v":5.0},{"i":112,"t":10.95,"v":4.5},{"i":112,"t":11.1,"v":3.8},{"i":112,"t":11.3,"v":3.2},{"i":112,"t":11.5,"v":2.8},{"i":112,"t":11.8,"v":2.5},{"i":112,"t":12.1,"v":2.3},
{"i":113,"t":10.85,"v":6.2},{"i":113,"t":11.0,"v":5.0},{"i":113,"t":11.15,"v":4.0},{"i":113,"t":11.3,"v":3.3},{"i":113,"t":11.5,"v":2.8},{"i":113,"t":11.8,"v":2.45},{"i":113,"t":12.1,"v":2.3},{"i":113,"t":12.4,"v":2.35},{"i":113,"t":12.7,"v":2.75},{"i":113,"t":12.9,"v":3.3},
{"i":114,"t":11.1,"v":3.8},{"i":114,"t":11.3,"v":3.2},{"i":114,"t":11.5,"v":2.9},{"i":114,"t":11.8,"v":2.55},{"i":114,"t":12.1,"v":2.45},{"i":114,"t":12.4,"v":2.5},{"i":114,"t":12.65,"v":2.9},{"i":114,"t":12.85,"v":3.7},{"i":114,"t":13.0,"v":4.6},
{"i":115,"t":11.4,"v":4.5},{"i":115,"t":11.6,"v":4.0},{"i":115,"t":11.8,"v":3.5},{"i":115,"t":12.0,"v":3.1},{"i":115,"t":12.3,"v":2.9},{"i":115,"t":12.6,"v":3.0},{"i":115,"t":12.8,"v":3.3},{"i":115,"t":13.0,"v":3.9},
{"i":116,"t":11.2,"v":2.9},{"i":116,"t":11.45,"v":2.65},{"i":116,"t":11.7,"v":2.45},{"i":116,"t":12.0,"v":2.35},{"i":116,"t":12.3,"v":2.4},{"i":116,"t":12.55,"v":2.55},{"i":116,"t":12.75,"v":2.85},
{"i":117,"t":12.8,"v":2.9},{"i":117,"t":12.95,"v":3.4},{"i":117,"t":13.1,"v":4.2},{"i":117,"t":13.2,"v":5.0},{"i":117,"t":13.3,"v":5.8},{"i":117,"t":13.4,"v":6.6},{"i":117,"t":13.5,"v":7.2},
{"i":118,"t":13.25,"v":6.0},{"i":118,"t":13.4,"v":5.5},{"i":118,"t":13.6,"v":4.9},{"i":118,"t":13.8,"v":4.4},{"i":118,"t":14.0,"v":4.0},{"i":118,"t":14.2,"v":3.8},{"i":118,"t":14.4,"v":3.9},{"i":118,"t":14.6,"v":4.3},{"i":118,"t":14.8,"v":4.8},
{"i":119,"t":13.5,"v":4.5},{"i":119,"t":13.7,"v":3.9},{"i":119,"t":13.9,"v":3.4},{"i":119,"t":14.1,"v":3.1},{"i":119,"t":14.3,"v":2.95},{"i":119,"t":14.5,"v":3.1},{"i":119,"t":14.7,"v":3.4},{"i":119,"t":14.9,"v":3.8},{"i":119,"t":15.1,"v":3.6},
{"i":120,"t":13.9,"v":3.2},{"i":120,"t":14.1,"v":2.85},{"i":120,"t":14.3,"v":2.7},{"i":120,"t":14.5,"v":2.8},{"i":120,"t":14.7,"v":3.1},{"i":120,"t":14.9,"v":3.3},{"i":120,"t":15.1,"v":3.1},{"i":120,"t":15.3,"v":2.8},{"i":120,"t":15.5,"v":2.6},{"i":120,"t":15.7,"v":2.55},
{"i":121,"t":14.6,"v":5.0},{"i":121,"t":14.8,"v":4.4},{"i":121,"t":15.0,"v":3.8},{"i":121,"t":15.2,"v":3.3},{"i":121,"t":15.4,"v":2.9},{"i":121,"t":15.55,"v":2.6},{"i":121,"t":15.7,"v":2.5},{"i":121,"t":15.85,"v":2.65},{"i":121,"t":16.0,"v":3.0},
{"i":122,"t":15.2,"v":4.2},{"i":122,"t":15.4,"v":3.7},{"i":122,"t":15.6,"v":3.3},{"i":122,"t":15.8,"v":3.3},{"i":122,"t":16.0,"v":3.5},{"i":122,"t":16.2,"v":3.4},{"i":122,"t":16.4,"v":3.2},{"i":122,"t":16.6,"v":3.1},{"i":122,"t":16.8,"v":3.0},
{"i":123,"t":15.3,"v":2.6},{"i":123,"t":15.5,"v":2.5},{"i":123,"t":15.65,"v":2.5},{"i":123,"t":15.8,"v":2.6},{"i":123,"t":16.0,"v":2.9},
{"i":124,"t":16.3,"v":4.3},{"i":124,"t":16.6,"v":3.8},{"i":124,"t":16.9,"v":3.5},{"i":124,"t":17.2,"v":3.4},{"i":124,"t":17.5,"v":3.4},{"i":124,"t":17.8,"v":3.6},{"i":124,"t":18.0,"v":4.0},{"i":124,"t":18.15,"v":4.6},
{"i":125,"t":16.5,"v":2.9},{"i":125,"t":16.8,"v":2.6},{"i":125,"t":17.1,"v":2.4},{"i":125,"t":17.4,"v":2.3},{"i":125,"t":17.7,"v":2.35},{"i":125,"t":17.95,"v":2.6},{"i":125,"t":18.1,"v":2.95},
{"i":126,"t":16.6,"v":3.6},{"i":126,"t":16.9,"v":3.2},{"i":126,"t":17.2,"v":3.0},{"i":126,"t":17.5,"v":3.0},{"i":126,"t":17.8,"v":3.2},{"i":126,"t":18.0,"v":3.5},{"i":126,"t":18.1,"v":3.9},
{"i":127,"t":18.0,"v":5.2},{"i":127,"t":18.15,"v":4.6},{"i":127,"t":18.3,"v":3.8},{"i":127,"t":18.45,"v":3.0},{"i":127,"t":18.6,"v":2.5},{"i":127,"t":18.75,"v":2.25},{"i":127,"t":18.9,"v":2.2},{"i":127,"t":19.05,"v":2.35},{"i":127,"t":19.2,"v":2.6},
{"i":128,"t":18.2,"v":3.3},{"i":128,"t":18.4,"v":2.5},{"i":128,"t":18.6,"v":2.15},{"i":128,"t":18.8,"v":2.05},{"i":128,"t":19.0,"v":2.15},{"i":128,"t":19.2,"v":2.45},{"i":128,"t":19.4,"v":2.8},
{"i":129,"t":18.6,"v":3.5},{"i":129,"t":18.8,"v":3.0},{"i":129,"t":19.0,"v":2.8},{"i":129,"t":19.2,"v":2.9},{"i":129,"t":19.5,"v":3.2},{"i":129,"t":19.8,"v":3.5},{"i":129,"t":20.1,"v":3.9},{"i":129,"t":20.4,"v":4.4},{"i":129,"t":20.6,"v":5.0},{"i":129,"t":20.75,"v":5.6},
{"i":130,"t":19.2,"v":3.8},{"i":130,"t":19.4,"v":3.3},{"i":130,"t":19.6,"v":3.1},{"i":130,"t":19.8,"v":3.2},{"i":130,"t":20.0,"v":3.5},{"i":130,"t":20.2,"v":4.0},{"i":130,"t":20.4,"v":4.7},{"i":130,"t":20.55,"v":5.5},{"i":130,"t":20.7,"v":6.3},{"i":130,"t":20.8,"v":6.9},
{"i":131,"t":19.8,"v":3.0},{"i":131,"t":20.0,"v":3.2},{"i":131,"t":20.2,"v":3.5},{"i":131,"t":20.4,"v":3.9},{"i":131,"t":20.6,"v":4.3},{"i":131,"t":20.8,"v":4.6},{"i":131,"t":21.0,"v":4.0},{"i":131,"t":21.2,"v":3.3},{"i":131,"t":21.35,"v":2.9},
{"i":132,"t":20.8,"v":5.0},{"i":132,"t":20.95,"v":4.3},{"i":132,"t":21.1,"v":3.6},{"i":132,"t":21.25,"v":3.0},{"i":132,"t":21.4,"v":2.6},{"i":132,"t":21.55,"v":2.5},{"i":132,"t":21.7,"v":2.7},{"i":132,"t":21.85,"v":3.1},
{"i":133,"t":21.2,"v":2.7},{"i":133,"t":21.35,"v":2.55},{"i":133,"t":21.5,"v":2.5},{"i":133,"t":21.65,"v":2.55},{"i":133,"t":21.8,"v":2.8},{"i":133,"t":22.0,"v":3.2},{"i":133,"t":22.2,"v":3.6},
{"i":134,"t":21.4,"v":3.1},{"i":134,"t":21.6,"v":3.0},{"i":134,"t":21.8,"v":3.1},{"i":134,"t":22.0,"v":3.4},{"i":134,"t":22.2,"v":3.9},{"i":134,"t":22.4,"v":4.1},{"i":134,"t":22.6,"v":4.2},{"i":134,"t":22.8,"v":4.0},{"i":134,"t":23.0,"v":3.8},
{"i":135,"t":22.0,"v":4.2},{"i":135,"t":22.2,"v":4.6},{"i":135,"t":22.4,"v":4.9},{"i":135,"t":22.6,"v":4.5},{"i":135,"t":22.8,"v":4.0},{"i":135,"t":23.0,"v":4.4},{"i":135,"t":23.2,"v":5.0},{"i":135,"t":23.4,"v":5.4},{"i":135,"t":23.6,"v":5.0},{"i":135,"t":23.8,"v":4.3},{"i":135,"t":24.0,"v":3.9},
{"i":136,"t":22.8,"v":2.9},{"i":136,"t":23.0,"v":3.0},{"i":136,"t":23.2,"v":3.3},{"i":136,"t":23.4,"v":3.4},{"i":136,"t":23.6,"v":3.2},{"i":136,"t":23.8,"v":2.9},{"i":136,"t":24.0,"v":2.8},
{"i":137,"t":23.0,"v":3.6},{"i":137,"t":23.2,"v":3.8},{"i":137,"t":23.4,"v":4.1},{"i":137,"t":23.6,"v":3.9},{"i":137,"t":23.8,"v":3.4},{"i":137,"t":24.0,"v":3.4},
{"i":138,"t":1.2,"v":3.3},{"i":138,"t":1.35,"v":3.7},{"i":138,"t":1.5,"v":4.2},{"i":138,"t":1.65,"v":4.9},{"i":138,"t":1.8,"v":4.4},{"i":138,"t":2.0,"v":3.7},{"i":138,"t":2.2,"v":3.2},{"i":138,"t":2.4,"v":2.8},
{"i":139,"t":7.0,"v":2.9},{"i":139,"t":7.2,"v":3.2},{"i":139,"t":7.35,"v":3.8},{"i":139,"t":7.5,"v":4.4},{"i":139,"t":7.65,"v":5.0},{"i":139,"t":7.8,"v":4.6},{"i":139,"t":8.0,"v":4.0},{"i":139,"t":8.2,"v":3.6},{"i":139,"t":8.5,"v":3.3},{"i":139,"t":8.8,"v":3.2},
{"i":140,"t":8.0,"v":3.6},{"i":140,"t":8.3,"v":3.1},{"i":140,"t":8.6,"v":2.75},{"i":140,"t":8.9,"v":2.6},{"i":140,"t":9.2,"v":2.75},{"i":140,"t":9.5,"v":3.1},{"i":140,"t":9.8,"v":3.4},{"i":140,"t":10.0,"v":3.3},
{"i":141,"t":10.3,"v":2.3},{"i":141,"t":10.45,"v":2.9},{"i":141,"t":10.55,"v":3.6},{"i":141,"t":10.65,"v":4.5},{"i":141,"t":10.72,"v":5.3},{"i":141,"t":10.8,"v":6.2},{"i":141,"t":10.88,"v":7.2},{"i":141,"t":10.95,"v":8.0},
{"i":142,"t":10.4,"v":2.5},{"i":142,"t":10.5,"v":3.2},{"i":142,"t":10.6,"v":4.0},{"i":142,"t":10.7,"v":5.0},{"i":142,"t":10.78,"v":6.0},{"i":142,"t":10.85,"v":6.6},{"i":142,"t":10.92,"v":6.0},{"i":142,"t":11.0,"v":5.2},{"i":142,"t":11.1,"v":4.4},
{"i":143,"t":10.6,"v":6.5},{"i":143,"t":10.7,"v":7.3},{"i":143,"t":10.78,"v":8.2},{"i":143,"t":10.85,"v":9.0},{"i":143,"t":10.9,"v":9.5},
{"i":144,"t":10.88,"v":8.8},{"i":144,"t":10.95,"v":7.8},{"i":144,"t":11.05,"v":6.6},{"i":144,"t":11.15,"v":5.6},{"i":144,"t":11.25,"v":4.8},
{"i":145,"t":12.9,"v":4.0},{"i":145,"t":13.0,"v":4.8},{"i":145,"t":13.1,"v":5.5},{"i":145,"t":13.2,"v":6.2},{"i":145,"t":13.3,"v":6.9},{"i":145,"t":13.38,"v":7.5},
{"i":146,"t":13.15,"v":6.4},{"i":146,"t":13.25,"v":6.8},{"i":146,"t":13.35,"v":7.0},{"i":146,"t":13.45,"v":6.6},{"i":146,"t":13.55,"v":5.8},{"i":146,"t":13.65,"v":5.2},
{"i":147,"t":13.3,"v":7.6},{"i":147,"t":13.4,"v":7.0},{"i":147,"t":13.5,"v":6.4},{"i":147,"t":13.6,"v":5.6},{"i":147,"t":13.7,"v":4.9},{"i":147,"t":13.85,"v":4.3},
{"i":148,"t":9.8,"v":2.15},{"i":148,"t":10.0,"v":2.05},{"i":148,"t":10.2,"v":2.1},{"i":148,"t":10.35,"v":2.3},
{"i":149,"t":11.6,"v":2.35},{"i":149,"t":11.9,"v":2.25},{"i":149,"t":12.2,"v":2.2},{"i":149,"t":12.5,"v":2.3},{"i":149,"t":12.7,"v":2.5},
{"i":150,"t":14.0,"v":2.9},{"i":150,"t":14.2,"v":2.7},{"i":150,"t":14.4,"v":2.65},{"i":150,"t":14.6,"v":2.75},{"i":150,"t":14.8,"v":2.95},
{"i":151,"t":16.8,"v":2.35},{"i":151,"t":17.1,"v":2.28},{"i":151,"t":17.4,"v":2.25},{"i":151,"t":17.7,"v":2.3},{"i":151,"t":17.9,"v":2.5},
{"i":152,"t":18.4,"v":2.3},{"i":152,"t":18.6,"v":2.05},{"i":152,"t":18.8,"v":2.0},{"i":152,"t":19.0,"v":2.05},{"i":152,"t":19.2,"v":2.25},
{"i":153,"t":21.2,"v":3.0},{"i":153,"t":21.35,"v":2.65},{"i":153,"t":21.5,"v":2.55},{"i":153,"t":21.65,"v":2.6},{"i":153,"t":21.8,"v":2.9},
{"i":154,"t":23.6,"v":2.7},{"i":154,"t":23.8,"v":2.5},{"i":154,"t":24.0,"v":2.45},
{"i":155,"t":2.5,"v":2.3},{"i":155,"t":2.7,"v":2.15},{"i":155,"t":2.9,"v":2.15},{"i":155,"t":3.05,"v":2.35},
{"i":156,"t":6.2,"v":2.65},{"i":156,"t":6.5,"v":2.65},{"i":156,"t":6.8,"v":2.75},{"i":156,"t":7.0,"v":2.85},
{"i":157,"t":4.2,"v":2.45},{"i":157,"t":4.5,"v":2.45},{"i":157,"t":4.8,"v":2.5},{"i":157,"t":5.0,"v":2.6},
{"i":158,"t":0,"v":2.9},{"i":158,"t":0.4,"v":2.85},{"i":158,"t":0.8,"v":2.95},{"i":158,"t":1.2,"v":3.1},
{"i":159,"t":0,"v":3.1},{"i":159,"t":0.5,"v":3.0},{"i":159,"t":1.0,"v":3.15},{"i":159,"t":1.3,"v":3.35},
{"i":160,"t":20.4,"v":5.8},{"i":160,"t":20.55,"v":6.6},{"i":160,"t":20.7,"v":7.3},{"i":160,"t":20.8,"v":7.6},{"i":160,"t":20.9,"v":7.0},{"i":160,"t":21.0,"v":6.2},
{"i":161,"t":20.2,"v":4.2},{"i":161,"t":20.4,"v":4.9},{"i":161,"t":20.6,"v":5.6},{"i":161,"t":20.75,"v":6.2},{"i":161,"t":20.9,"v":5.6},{"i":161,"t":21.05,"v":4.6},
{"i":162,"t":7.3,"v":4.6},{"i":162,"t":7.45,"v":5.4},{"i":162,"t":7.55,"v":6.0},{"i":162,"t":7.65,"v":6.3},{"i":162,"t":7.75,"v":5.8},{"i":162,"t":7.9,"v":5.0},
{"i":163,"t":14.8,"v":4.0},{"i":163,"t":15.0,"v":4.4},{"i":163,"t":15.1,"v":4.7},{"i":163,"t":15.2,"v":4.3},{"i":163,"t":15.35,"v":3.6},{"i":163,"t":15.5,"v":3.0},
{"i":164,"t":22.2,"v":4.0},{"i":164,"t":22.35,"v":4.5},{"i":164,"t":22.5,"v":4.6},{"i":164,"t":22.65,"v":4.3},{"i":164,"t":22.8,"v":4.2},
{"i":165,"t":9.0,"v":3.2},{"i":165,"t":9.3,"v":3.1},{"i":165,"t":9.6,"v":2.9},{"i":165,"t":9.9,"v":2.6},{"i":165,"t":10.1,"v":2.4},
{"i":166,"t":8.6,"v":3.0},{"i":166,"t":8.9,"v":2.8},{"i":166,"t":9.2,"v":2.6},{"i":166,"t":9.5,"v":2.45},{"i":166,"t":9.8,"v":2.35},{"i":166,"t":10.0,"v":2.25},
{"i":167,"t":2.0,"v":3.4},{"i":167,"t":2.3,"v":3.0},{"i":167,"t":2.6,"v":2.8},{"i":167,"t":2.9,"v":2.9},{"i":167,"t":3.1,"v":3.3},{"i":167,"t":3.3,"v":3.9},{"i":167,"t":3.5,"v":4.1},{"i":167,"t":3.8,"v":3.9},{"i":167,"t":4.1,"v":3.6},{"i":167,"t":4.4,"v":3.3},{"i":167,"t":4.7,"v":3.2},{"i":167,"t":5.0,"v":3.1},
{"i":168,"t":3.6,"v":5.2},{"i":168,"t":3.9,"v":4.9},{"i":168,"t":4.2,"v":4.5},{"i":168,"t":4.5,"v":4.4},{"i":168,"t":4.8,"v":4.6},{"i":168,"t":5.0,"v":4.8},{"i":168,"t":5.3,"v":4.7},{"i":168,"t":5.6,"v":4.5},{"i":168,"t":5.9,"v":4.4},
{"i":169,"t":8.2,"v":3.8},{"i":169,"t":8.5,"v":3.6},{"i":169,"t":8.8,"v":3.6},{"i":169,"t":9.1,"v":3.5},{"i":169,"t":9.4,"v":3.3},{"i":169,"t":9.7,"v":2.9},{"i":169,"t":10.0,"v":2.5},
{"i":170,"t":8.4,"v":4.4},{"i":170,"t":8.7,"v":4.6},{"i":170,"t":9.0,"v":4.6},{"i":170,"t":9.3,"v":4.2},{"i":170,"t":9.6,"v":3.7},{"i":170,"t":9.9,"v":3.4},{"i":170,"t":10.2,"v":3.3},{"i":170,"t":10.45,"v":3.8},
{"i":171,"t":15.8,"v":3.8},{"i":171,"t":16.1,"v":4.2},{"i":171,"t":16.4,"v":4.4},{"i":171,"t":16.7,"v":4.0},{"i":171,"t":17.0,"v":3.7},{"i":171,"t":17.3,"v":3.6},{"i":171,"t":17.6,"v":3.5},{"i":171,"t":17.9,"v":3.8},{"i":171,"t":18.1,"v":4.1},
{"i":172,"t":19.2,"v":3.2},{"i":172,"t":19.5,"v":3.6},{"i":172,"t":19.8,"v":3.9},{"i":172,"t":20.1,"v":4.2},{"i":172,"t":20.4,"v":4.5},{"i":172,"t":20.6,"v":4.9},{"i":172,"t":20.8,"v":5.1},
{"i":173,"t":19.0,"v":2.6},{"i":173,"t":19.3,"v":2.8},{"i":173,"t":19.6,"v":3.1},{"i":173,"t":19.9,"v":3.6},{"i":173,"t":20.2,"v":4.4},{"i":173,"t":20.4,"v":5.1},{"i":173,"t":20.6,"v":5.5},
{"i":174,"t":22.0,"v":3.0},{"i":174,"t":22.3,"v":3.3},{"i":174,"t":22.6,"v":3.5},{"i":174,"t":22.9,"v":3.9},{"i":174,"t":23.2,"v":4.2},{"i":174,"t":23.5,"v":4.0},{"i":174,"t":23.8,"v":3.5},{"i":174,"t":24.0,"v":3.3},
{"i":175,"t":12.0,"v":2.9},{"i":175,"t":12.3,"v":2.7},{"i":175,"t":12.6,"v":2.65},{"i":175,"t":12.85,"v":2.95},{"i":175,"t":13.0,"v":3.4},
{"i":176,"t":14.2,"v":3.4},{"i":176,"t":14.5,"v":3.5},{"i":176,"t":14.8,"v":3.4},{"i":176,"t":15.1,"v":3.3},{"i":176,"t":15.4,"v":3.3},{"i":176,"t":15.7,"v":3.5},{"i":176,"t":16.0,"v":3.7},
{"i":177,"t":6.3,"v":3.5},{"i":177,"t":6.6,"v":3.3},{"i":177,"t":6.9,"v":3.5},{"i":177,"t":7.2,"v":3.9},{"i":177,"t":7.4,"v":4.3},
{"i":178,"t":0,"v":3.6},{"i":178,"t":0.3,"v":3.7},{"i":178,"t":0.6,"v":3.9},{"i":178,"t":0.9,"v":4.4},{"i":178,"t":1.1,"v":4.9},{"i":178,"t":1.3,"v":5.4}
],
"trails": [
{"i":1,"t":0.05,"v":11.9},{"i":1,"t":0.1,"v":10.8},{"i":1,"t":0.2,"v":9.5},{"i":1,"t":0.3,"v":8.3},{"i":1,"t":0.4,"v":7.2},
{"i":2,"t":0.46,"v":8.1},{"i":2,"t":0.6,"v":7.2},{"i":2,"t":0.8,"v":6.1},{"i":2,"t":1.0,"v":5.2},
{"i":3,"t":1.29,"v":11.8},{"i":3,"t":1.4,"v":11.0},{"i":3,"t":1.55,"v":10.1},
{"i":4,"t":1.83,"v":8.4},{"i":4,"t":1.9,"v":7.2},{"i":4,"t":2.0,"v":6.1},{"i":4,"t":2.15,"v":4.6},{"i":4,"t":2.3,"v":3.6},{"i":4,"t":2.4,"v":3.1},
{"i":5,"t":2.37,"v":12.0},{"i":5,"t":2.42,"v":11.0},{"i":5,"t":2.47,"v":10.0},{"i":5,"t":2.53,"v":9.0},{"i":5,"t":2.6,"v":8.1},{"i":5,"t":2.7,"v":7.0},{"i":5,"t":2.8,"v":5.9},
{"i":6,"t":3.05,"v":7.4},{"i":6,"t":3.12,"v":8.1},{"i":6,"t":3.22,"v":9.0},{"i":6,"t":3.3,"v":9.9},{"i":6,"t":3.36,"v":10.7},
{"i":7,"t":4.07,"v":11.0},{"i":7,"t":4.12,"v":10.2},{"i":7,"t":4.18,"v":9.3},{"i":7,"t":4.25,"v":8.5},{"i":7,"t":4.3,"v":7.8},
{"i":8,"t":3.1,"v":8.5},{"i":8,"t":3.3,"v":7.8},{"i":8,"t":3.5,"v":7.2},{"i":8,"t":3.7,"v":6.8},
{"i":9,"t":3.2,"v":7.8},{"i":9,"t":3.35,"v":7.2},{"i":9,"t":3.5,"v":6.6},{"i":9,"t":3.65,"v":6.0},{"i":9,"t":3.8,"v":5.4},
{"i":10,"t":4.9,"v":4.0},{"i":10,"t":5.1,"v":5.0},{"i":10,"t":5.3,"v":6.0},{"i":10,"t":5.45,"v":6.75},{"i":10,"t":5.6,"v":7.2},{"i":10,"t":5.75,"v":7.8},{"i":10,"t":5.9,"v":8.5},
{"i":11,"t":5.95,"v":8.6},{"i":11,"t":6.0,"v":7.6},{"i":11,"t":6.05,"v":6.6},{"i":11,"t":6.1,"v":5.6},{"i":11,"t":6.15,"v":4.6},
{"i":12,"t":6.6,"v":7.2},{"i":12,"t":6.7,"v":6.4},{"i":12,"t":6.8,"v":5.6},
{"i":13,"t":7.3,"v":11.7},{"i":13,"t":7.32,"v":10.6},{"i":13,"t":7.35,"v":9.5},{"i":13,"t":7.38,"v":8.5},{"i":13,"t":7.42,"v":7.6},{"i":13,"t":7.5,"v":6.9},
{"i":14,"t":7.7,"v":7.3},{"i":14,"t":8.0,"v":6.2},{"i":14,"t":8.35,"v":5.1},
{"i":15,"t":8.8,"v":7.7},{"i":15,"t":8.85,"v":6.8},{"i":15,"t":8.9,"v":6.05},{"i":15,"t":9.05,"v":6.2},{"i":15,"t":9.3,"v":7.2},
{"i":16,"t":9.6,"v":10.0},{"i":16,"t":9.63,"v":9.0},{"i":16,"t":9.66,"v":8.0},{"i":16,"t":9.7,"v":7.0},
{"i":17,"t":11.0,"v":6.6},{"i":17,"t":11.2,"v":6.0},{"i":17,"t":11.4,"v":5.4},{"i":17,"t":11.6,"v":5.0},
{"i":18,"t":14.7,"v":9.3},{"i":18,"t":14.75,"v":8.6},{"i":18,"t":14.8,"v":8.0},{"i":18,"t":14.85,"v":7.4},
{"i":19,"t":15.6,"v":10.2},{"i":19,"t":15.65,"v":9.4},{"i":19,"t":15.7,"v":8.6},{"i":19,"t":15.75,"v":8.0},
{"i":20,"t":15.95,"v":12.0},{"i":20,"t":15.96,"v":11.0},{"i":20,"t":15.97,"v":10.0},{"i":20,"t":15.98,"v":9.0},{"i":20,"t":16.0,"v":8.0},{"i":20,"t":16.05,"v":7.0},
{"i":21,"t":17.2,"v":7.0},{"i":21,"t":17.3,"v":7.5},{"i":21,"t":17.4,"v":8.0},{"i":21,"t":17.5,"v":8.5},
{"i":22,"t":17.6,"v":12.0},{"i":22,"t":17.7,"v":11.0},{"i":22,"t":17.8,"v":10.0},{"i":22,"t":17.9,"v":9.0},{"i":22,"t":18.0,"v":8.0},{"i":22,"t":18.1,"v":7.0},{"i":22,"t":18.2,"v":6.0},
{"i":23,"t":19.0,"v":12.0},{"i":23,"t":19.05,"v":10.5},{"i":23,"t":19.1,"v":9.0},{"i":23,"t":19.2,"v":7.5},{"i":23,"t":19.3,"v":6.0},{"i":23,"t":19.4,"v":5.0},
{"i":24,"t":20.4,"v":12.0},{"i":24,"t":20.45,"v":11.0},{"i":24,"t":20.5,"v":10.0},{"i":24,"t":20.55,"v":9.0},{"i":24,"t":20.6,"v":8.0},
{"i":25,"t":22.0,"v":6.0},{"i":25,"t":22.1,"v":6.3},{"i":25,"t":22.2,"v":6.5},{"i":25,"t":22.3,"v":6.3},{"i":25,"t":22.4,"v":5.8},{"i":25,"t":22.5,"v":5.2},
{"i":26,"t":22.8,"v":6.0},{"i":26,"t":22.9,"v":6.5},{"i":26,"t":23.0,"v":6.75},{"i":26,"t":23.15,"v":6.5},{"i":26,"t":23.3,"v":6.0},{"i":26,"t":23.5,"v":5.0},
{"i":27,"t":22.6,"v":9.5},{"i":27,"t":22.7,"v":9.0},{"i":27,"t":22.8,"v":8.5},{"i":27,"t":22.9,"v":8.0},
{"i":28,"t":23.95,"v":10.6},{"i":28,"t":23.97,"v":9.8},{"i":28,"t":23.99,"v":9.0},{"i":28,"t":24.0,"v":8.0},
{"i":29,"t":23.7,"v":7.5},{"i":29,"t":23.8,"v":6.5},{"i":29,"t":23.9,"v":5.5},{"i":29,"t":24.0,"v":4.8},
{"i":30,"t":8.2,"v":6.5},{"i":30,"t":8.4,"v":5.8},{"i":30,"t":8.6,"v":5.2},{"i":30,"t":8.8,"v":4.6},
{"i":31,"t":9.4,"v":7.8},{"i":31,"t":9.5,"v":7.0},{"i":31,"t":9.6,"v":6.2},{"i":31,"t":9.7,"v":5.4},{"i":31,"t":9.8,"v":4.6},
{"i":32,"t":11.4,"v":7.5},{"i":32,"t":11.5,"v":6.8},{"i":32,"t":11.6,"v":6.2},
{"i":33,"t":13.8,"v":7.8},{"i":33,"t":13.9,"v":7.0},{"i":33,"t":14.0,"v":6.2},{"i":33,"t":14.1,"v":5.4},{"i":33,"t":14.2,"v":4.6},
{"i":34,"t":14.3,"v":7.0},{"i":34,"t":14.4,"v":6.4},{"i":34,"t":14.5,"v":5.8},{"i":34,"t":14.6,"v":5.2},
{"i":35,"t":15.0,"v":6.5},{"i":35,"t":15.1,"v":5.8},{"i":35,"t":15.2,"v":5.0},{"i":35,"t":15.3,"v":4.4},
{"i":36,"t":16.5,"v":7.2},{"i":36,"t":16.6,"v":6.5},{"i":36,"t":16.7,"v":5.8},{"i":36,"t":16.8,"v":5.1},
{"i":37,"t":18.3,"v":7.3},{"i":37,"t":18.4,"v":6.5},{"i":37,"t":18.5,"v":5.7},{"i":37,"t":18.6,"v":4.9},
{"i":38,"t":19.8,"v":7.0},{"i":38,"t":19.9,"v":6.2},{"i":38,"t":20.0,"v":5.5},
{"i":39,"t":21.2,"v":7.8},{"i":39,"t":21.3,"v":7.0},{"i":39,"t":21.4,"v":6.3},{"i":39,"t":21.5,"v":5.6},
{"i":40,"t":6.8,"v":7.6},{"i":40,"t":6.9,"v":7.0},{"i":40,"t":7.0,"v":6.4},
{"i":41,"t":12.9,"v":7.0},{"i":41,"t":12.95,"v":8.0},{"i":41,"t":13.0,"v":9.0},{"i":41,"t":13.05,"v":10.0},{"i":41,"t":13.1,"v":11.0},
{"i":42,"t":10.45,"v":8.5},{"i":42,"t":10.5,"v":9.5},{"i":42,"t":10.55,"v":10.5},{"i":42,"t":10.6,"v":11.5}
],
"dots": [
{"t":10.62,"v":11.9},{"t":10.85,"v":11.8},{"t":10.7,"v":11.5},{"t":10.95,"v":11.3},{"t":10.78,"v":11.1},{"t":10.6,"v":10.9},{"t":10.9,"v":10.8},{"t":10.82,"v":10.6},{"t":10.68,"v":10.4},{"t":11.0,"v":10.3},{"t":10.75,"v":10.1},{"t":10.88,"v":9.9},{"t":10.64,"v":9.7},{"t":10.8,"v":9.6},{"t":10.97,"v":9.4},{"t":10.72,"v":9.2},{"t":10.86,"v":9.0},{"t":10.6,"v":8.9},{"t":10.78,"v":8.7},{"t":10.92,"v":8.5},{"t":10.7,"v":8.3},{"t":10.84,"v":8.1},{"t":11.05,"v":8.0},{"t":10.66,"v":7.9},{"t":10.9,"v":7.7},{"t":10.76,"v":11.7},{"t":10.58,"v":11.3},{"t":10.93,"v":10.5},{"t":10.71,"v":9.95},{"t":10.99,"v":9.1},{"t":10.81,"v":7.5},{"t":10.69,"v":8.6},
{"t":13.05,"v":12.0},{"t":13.3,"v":11.9},{"t":13.15,"v":11.7},{"t":13.45,"v":11.6},{"t":13.2,"v":11.4},{"t":13.35,"v":11.2},{"t":13.1,"v":11.0},{"t":13.5,"v":10.9},{"t":13.25,"v":10.8},{"t":13.4,"v":10.6},{"t":13.0,"v":10.4},{"t":13.3,"v":10.3},{"t":13.55,"v":10.2},{"t":13.15,"v":10.1},{"t":13.38,"v":9.9},{"t":13.22,"v":9.7},{"t":13.48,"v":9.6},{"t":13.08,"v":9.4},{"t":13.32,"v":9.3},{"t":13.6,"v":9.1},{"t":13.2,"v":9.0},{"t":13.42,"v":8.8},{"t":13.0,"v":8.7},{"t":13.28,"v":8.5},{"t":13.52,"v":8.3},{"t":13.12,"v":8.2},{"t":13.36,"v":8.0},{"t":13.7,"v":7.9},{"t":13.25,"v":7.7},{"t":13.45,"v":7.5},{"t":12.95,"v":7.3},{"t":13.35,"v":7.1},{"t":13.6,"v":11.3},{"t":13.68,"v":10.0},{"t":13.18,"v":12.0},{"t":13.42,"v":11.95},
{"t":20.35,"v":12.0},{"t":20.4,"v":11.7},{"t":20.38,"v":11.3},{"t":20.45,"v":11.0},{"t":20.5,"v":10.6},{"t":20.42,"v":10.4},{"t":20.55,"v":10.0},{"t":20.6,"v":9.6},{"t":20.52,"v":9.3},{"t":20.65,"v":9.0},{"t":20.7,"v":8.7},{"t":20.58,"v":8.4},{"t":20.75,"v":8.2},{"t":20.8,"v":9.8},{"t":20.72,"v":10.9},{"t":20.62,"v":7.9},{"t":20.85,"v":7.8},
{"t":18.45,"v":11.5},{"t":18.55,"v":11.2},{"t":18.6,"v":10.9},{"t":18.5,"v":10.5},{"t":18.7,"v":10.2},{"t":18.62,"v":9.8},{"t":18.75,"v":9.5},{"t":18.55,"v":9.2},{"t":18.8,"v":9.0},{"t":18.68,"v":8.7},{"t":18.85,"v":8.5},{"t":18.5,"v":8.2},{"t":18.9,"v":8.0},{"t":18.4,"v":9.6},{"t":18.95,"v":10.8},
{"t":9.35,"v":11.9},{"t":9.5,"v":11.6},{"t":9.42,"v":11.2},{"t":9.6,"v":11.0},{"t":9.55,"v":10.6},{"t":9.75,"v":10.4},{"t":9.68,"v":11.4},{"t":9.85,"v":10.9},{"t":9.5,"v":9.5},{"t":9.3,"v":8.0},{"t":9.45,"v":7.7},{"t":10.0,"v":11.6},{"t":9.9,"v":11.9},
{"t":0.75,"v":11.3},{"t":0.9,"v":10.5},{"t":0.8,"v":9.6},{"t":0.7,"v":9.0},{"t":0.95,"v":8.8},{"t":0.62,"v":10.1},
{"t":0.03,"v":11.7},{"t":0.05,"v":11.4},{"t":0.08,"v":11.0},{"t":0.12,"v":10.3},{"t":0.15,"v":9.5},{"t":0.1,"v":9.0},{"t":0.2,"v":8.7},{"t":0.25,"v":8.2},
{"t":2.04,"v":11.6},{"t":2.08,"v":10.2},{"t":2.1,"v":9.9},{"t":2.0,"v":8.6},{"t":2.05,"v":8.3},{"t":2.15,"v":9.1},
{"t":3.5,"v":11.3},{"t":3.6,"v":9.8},{"t":3.65,"v":8.9},{"t":8.76,"v":9.5},{"t":8.8,"v":10.4},
{"t":14.55,"v":11.9},{"t":14.4,"v":11.5},{"t":14.9,"v":10.2},{"t":15.2,"v":11.6},{"t":15.5,"v":11.0},
{"t":16.3,"v":11.8},{"t":16.5,"v":10.8},{"t":16.8,"v":11.4},{"t":16.35,"v":10.4},{"t":17.5,"v":11.6},{"t":17.85,"v":11.9},
{"t":21.3,"v":11.9},{"t":21.5,"v":11.5},{"t":21.6,"v":10.7},{"t":21.9,"v":11.1},{"t":22.2,"v":12.0},
{"t":22.65,"v":9.4},{"t":22.7,"v":9.1},{"t":22.9,"v":8.4},
{"t":23.35,"v":11.9},{"t":23.5,"v":11.0},{"t":23.45,"v":10.6},{"t":23.9,"v":11.6},{"t":24.0,"v":11.0},{"t":24.0,"v":10.2},
{"t":5.2,"v":11.9},{"t":5.5,"v":11.4},{"t":6.2,"v":11.7},{"t":6.5,"v":10.8},{"t":6.9,"v":11.5},{"t":6.0,"v":10.2},{"t":6.4,"v":9.2},
{"t":4.6,"v":11.5},{"t":4.8,"v":10.6},{"t":5.0,"v":9.4},
{"t":7.9,"v":11.8},{"t":8.1,"v":10.9},{"t":8.3,"v":9.7},{"t":8.5,"v":11.3},{"t":8.0,"v":8.9},
{"t":11.5,"v":11.9},{"t":11.8,"v":11.2},{"t":12.0,"v":10.5},{"t":12.3,"v":11.7},{"t":11.4,"v":9.2},{"t":12.1,"v":8.8},{"t":12.4,"v":9.6},{"t":11.9,"v":8.1},
{"t":14.05,"v":9.8},{"t":14.2,"v":8.9},{"t":14.1,"v":10.9}
],
"rule": [{"t":0,"t2":24,"v":10}],
"labels": [
{"t":4.07,"v":11.1,"lab":"GBAS Unavailable","k":"u"},
{"t":4.07,"v":8.95,"lab":"GBAS Available","k":"a"}
]
},
"encoding": {
"x": {"field":"t","type":"quantitative","scale":{"domain":[0,24],"nice":false,"zero":false},
 "axis":{"title":"Time (hours)","titleFontSize":14,"titleFontWeight":"normal","titleFont":"Liberation Sans","titleColor":"#000","titlePadding":0,
 "values":[0,0.8,1.6,2.4,3.2,4,4.8,5.6,6.4,7.2,8,8.8,9.6,10.4,11.2,12,12.8,13.6,14.4,15.2,16,16.8,17.6,18.4,19.2,20,20.8,21.6,22.4,23.2,24],
 "labelExpr":"datum.value % 4 === 0 ? datum.label : ''",
 "labelFontSize":14,"labelColor":"#000","labelFont":"Liberation Sans","labelPadding":8,"labelFlush":false,"labelOverlap":false,
 "tickSize":{"condition":{"test":"datum.value % 4 === 0","value":-5},"value":-3},
 "tickColor":"#888","domainColor":"#999","domainWidth":1.5,
 "grid":true,"gridDash":[1,2],"gridColor":"#bbb",
 "gridOpacity":{"condition":{"test":"datum.value % 4 === 0","value":1},"value":0}}},
"y": {"field":"v","type":"quantitative","scale":{"domain":[0,12],"nice":false,"zero":true},
 "axis":{"title":"VPL (meter)","titleFontSize":14,"titleFontWeight":"normal","titleFont":"Liberation Sans","titleColor":"#000","titlePadding":4,
 "values":[0,1,2,3,4,5,6,7,8,9,10,11,12],
 "labelExpr":"datum.value % 2 === 0 ? datum.label : ''",
 "labelFontSize":14,"labelColor":"#000","labelFont":"Liberation Sans","labelPadding":7,"labelFlush":false,"labelOverlap":false,
 "tickSize":{"condition":{"test":"datum.value % 2 === 0","value":-5},"value":-3},
 "tickColor":"#888","domainColor":"#999","domainWidth":1.5,
 "grid":true,"gridDash":[1,2],"gridColor":"#bbb",
 "gridOpacity":{"condition":{"test":"datum.value % 2 === 0","value":1},"value":0}}}
},
"layer": [
{"data":{"name":"arcs"},"mark":{"type":"line","color":"#000","strokeWidth":2.4,"clip":true},"encoding":{"detail":{"field":"i"}}},
{"data":{"name":"trails"},"mark":{"type":"line","color":"#000","strokeWidth":1.6,"strokeDash":[1.4,2.6],"clip":true},"encoding":{"detail":{"field":"i"}}},
{"data":{"name":"dots"},"mark":{"type":"circle","color":"#000","size":5,"opacity":0.9,"clip":true}},
{"data":{"name":"rule"},"mark":{"type":"rule","color":"#1f1fff","strokeWidth":1.6,"strokeDash":[4,2.5]},"encoding":{"x2":{"field":"t2"}}},
{"data":{"name":"labels"},"transform":[{"filter":"datum.k === 'u'"}],"mark":{"type":"text","align":"left","baseline":"middle","fontSize":15,"font":"Liberation Sans","color":"#ee4422"},"encoding":{"text":{"field":"lab"}}},
{"data":{"name":"labels"},"transform":[{"filter":"datum.k === 'a'"}],"mark":{"type":"text","align":"left","baseline":"middle","fontSize":15,"font":"Liberation Sans","color":"#2424ff"},"encoding":{"text":{"field":"lab"}}}
]
}
